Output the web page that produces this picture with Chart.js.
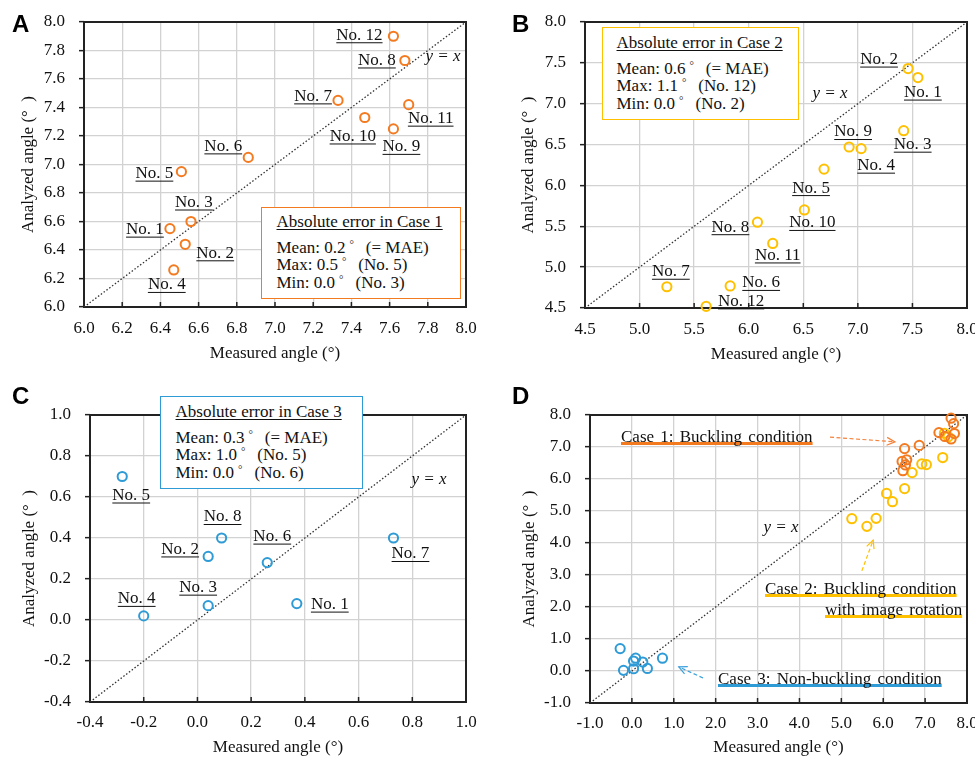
<!DOCTYPE html>
<html><head><meta charset="utf-8">
<script src="https://cdn.jsdelivr.net/npm/chart.js@4.4.0/dist/chart.umd.min.js"></script>
<style>
html,body{margin:0;padding:0;background:#fff;width:975px;height:758px;overflow:hidden;position:relative;}
canvas{position:absolute;}
.t{position:absolute;font-family:"Liberation Serif","Times New Roman",serif;font-size:17px;line-height:17px;white-space:nowrap;color:#111;}
.c{transform:translateX(-50%);}
.i{font-style:italic;}
.u{text-decoration:underline;text-decoration-thickness:1px;text-underline-offset:2px;}
.cu{text-decoration:underline;text-decoration-thickness:2.5px;text-underline-offset:0px;text-decoration-skip-ink:none;word-spacing:2px;}
.letter{position:absolute;font-family:"Liberation Sans",Arial,sans-serif;font-weight:bold;font-size:24px;line-height:24px;color:#000;}
.box{position:absolute;background:#fff;box-sizing:border-box;border-width:1.5px;border-style:solid;z-index:5;}
.deg{font-size:11px;position:relative;top:-5px;margin:0 12px 0 4px;}
</style></head><body>

<canvas id="cA" width="487" height="372" style="left:0;top:0"></canvas>
<canvas id="cB" width="488" height="372" style="left:487px;top:0"></canvas>
<canvas id="cC" width="487" height="378" style="left:0;top:380px"></canvas>
<canvas id="cD" width="488" height="378" style="left:487px;top:380px"></canvas>

<div class="letter" style="left:12px;top:12px">A</div>
<div class="letter" style="left:512px;top:12px">B</div>
<div class="letter" style="left:12px;top:384px">C</div>
<div class="letter" style="left:512px;top:384px">D</div>

<div class="t i c" style="left:443px;top:47px">y = x</div>
<div class="t i c" style="left:830px;top:84px">y = x</div>
<div class="t i c" style="left:429px;top:470px">y = x</div>
<div class="t i c" style="left:781px;top:518px">y = x</div>

<div class="box" style="left:261px;top:207px;width:200px;height:92px;border-color:#F47A20">
  <div class="t u" style="left:14.5px;top:5px">Absolute error in Case 1</div>
  <div class="t" style="left:14.5px;top:30.5px">Mean: 0.2<span class="deg">°</span>(= MAE)</div>
  <div class="t" style="left:14.5px;top:48px">Max: 0.5<span class="deg">°</span>(No. 5)</div>
  <div class="t" style="left:14.5px;top:65.5px">Min: 0.0<span class="deg">°</span>(No. 3)</div>
</div>
<div class="box" style="left:602px;top:27px;width:197px;height:93px;border-color:#FFC000">
  <div class="t u" style="left:13.5px;top:6px">Absolute error in Case 2</div>
  <div class="t" style="left:13.5px;top:31.5px">Mean: 0.6<span class="deg">°</span>(= MAE)</div>
  <div class="t" style="left:13.5px;top:49px">Max: 1.1<span class="deg">°</span>(No. 12)</div>
  <div class="t" style="left:13.5px;top:66.5px">Min: 0.0<span class="deg">°</span>(No. 2)</div>
</div>
<div class="box" style="left:160px;top:396px;width:203px;height:93px;border-color:#2E9BD6">
  <div class="t u" style="left:14.5px;top:6px">Absolute error in Case 3</div>
  <div class="t" style="left:14.5px;top:31.5px">Mean: 0.3<span class="deg">°</span>(= MAE)</div>
  <div class="t" style="left:14.5px;top:49px">Max: 1.0<span class="deg">°</span>(No. 5)</div>
  <div class="t" style="left:14.5px;top:66.5px">Min: 0.0<span class="deg">°</span>(No. 6)</div>
</div>

<div class="t cu" style="left:621px;top:428px;text-decoration-color:#F47A20">Case 1: Buckling condition</div>
<div class="t cu" style="left:765px;top:580px;text-decoration-color:#FFC000">Case 2: Buckling condition</div>
<div class="t cu" style="left:825px;top:601px;text-decoration-color:#FFC000">with image rotation</div>
<div class="t cu" style="left:718px;top:670px;text-decoration-color:#2E9BD6">Case 3: Non-buckling condition</div>

<script>
// ---------------- data ----------------
const pointNames = ['No. 1','No. 2','No. 3','No. 4','No. 5','No. 6','No. 7','No. 8','No. 9','No. 10','No. 11','No. 12'];
// Case 1: buckling condition
const case1Measured = [6.45, 6.53, 6.56, 6.47, 6.51, 6.86, 7.33, 7.68, 7.62, 7.47, 7.70, 7.62];
const case1Analyzed = [6.55, 6.44, 6.60, 6.26, 6.95, 7.05, 7.45, 7.73, 7.25, 7.33, 7.42, 7.90];
// Case 2: buckling condition with image rotation
const case2Measured = [7.55, 7.46, 7.42, 7.03, 6.69, 5.83, 5.25, 6.08, 6.92, 6.51, 6.22, 5.61];
const case2Analyzed = [7.32, 7.43, 6.67, 6.45, 6.20, 4.77, 4.76, 5.55, 6.47, 5.70, 5.29, 4.52];
// Case 3: non-buckling condition
const case3Names = ['No. 1','No. 2','No. 3','No. 4','No. 5','No. 6','No. 7','No. 8'];
const case3Measured = [0.37, 0.04, 0.04, -0.20, -0.28, 0.26, 0.73, 0.09];
const case3Analyzed = [0.08, 0.31, 0.07, 0.02, 0.70, 0.28, 0.40, 0.40];

// tick values of each panel
const ticksA = [6.0, 6.2, 6.4, 6.6, 6.8, 7.0, 7.2, 7.4, 7.6, 7.8, 8.0];
const ticksB = [4.5, 5.0, 5.5, 6.0, 6.5, 7.0, 7.5, 8.0];
const ticksC = [-0.4, -0.2, 0.0, 0.2, 0.4, 0.6, 0.8, 1.0];
const ticksD = [-1.0, 0.0, 1.0, 2.0, 3.0, 4.0, 5.0, 6.0, 7.0, 8.0];

const xTitle = 'Measured angle (°)';
const yTitle = 'Analyzed angle (°  )';

// ---------------- styles / label placement (pixel offsets from each point) ----------------
const offsA = [[-25,1],[30,9],[3,-19],[-7,15],[-27,2],[-25,-11],[-25,-4],[-28,0],[8,18],[-12,19],[22,14],[-34,-1]];
const offsB = [[5,15],[-29,-9],[9,14],[15,17],[-13,19],[31,-3],[4,-15],[-27,5],[4,-15],[8,13],[5,12],[35,-5]];
const offsC = [[33,1],[-28,-7],[-10,-18],[-7,-17],[9,19],[5,-26],[17,16],[1,-21]];
// arrows in panel D: [x1, y1, x2, y2] in data units, arrowhead at the second point
const arrowsD = [[4.73, 7.31, 6.28, 7.16, '#F4823C'], [5.49, 3.13, 5.76, 4.09, '#FFC000'], [1.70, -0.22, 1.12, 0.13, '#3AA0DC']];

const ORANGE = '#F47A20', GOLD = '#FFC000', BLUE = '#2E9BD6';
const SERIF = "'Liberation Serif','Times New Roman',serif";

function zip(xs, ys){ return xs.map((x,i)=>({x:x, y:ys[i]})); }
function fmt(v){ if (Math.abs(v) < 1e-9) v = 0; return v.toFixed(1); }

function scaleCfg(axis, ticks, fit, titlePad, tickPad){
  return {
    type:'linear', position: axis==='x' ? 'bottom' : 'left',
    min: ticks[0], max: ticks[ticks.length-1],
    afterBuildTicks(s){ s.ticks = ticks.map(v=>({value:v})); },
    ticks:{ padding: tickPad, color:'#111', font:{family:SERIF, size:17}, callback:(v)=>fmt(v), autoSkip:false, maxRotation:0, minRotation:0 },
    grid:{ color:'#d2d2d2', lineWidth:1.3, drawTicks: axis==='y', tickLength:5, tickColor:'#222', tickWidth:1.5 },
    border:{ display:false },
    title:{ display:true, text: axis==='x' ? xTitle : yTitle, color:'#111', font:{family:SERIF, size:17},
            padding: axis==='x' ? {top:0, bottom:titlePad} : {top:titlePad, bottom:0} },
    afterFit(s){
      if (axis==='x') s.height = fit; else s.width = fit;
      s.paddingLeft = 0; s.paddingRight = 0; s.paddingTop = 0; s.paddingBottom = 0;
    }
  };
}

const framePlugin = {
  id:'frame',
  beforeDatasetsDraw(chart){
    const ctx = chart.ctx, a = chart.chartArea, xs = chart.scales.x;
    ctx.save();
    ctx.strokeStyle = '#222'; ctx.lineWidth = 1.5;
    xs.ticks.forEach(t=>{
      const px = xs.getPixelForValue(t.value);
      ctx.beginPath(); ctx.moveTo(px, a.bottom); ctx.lineTo(px, a.bottom-5); ctx.stroke();
    });
    ctx.lineWidth = 2;
    ctx.strokeRect(a.left, a.top, a.right-a.left, a.bottom-a.top);
    ctx.restore();
  }
};

function labelPlugin(texts, offsets){
  return {
    id:'ptLabels',
    afterDatasetsDraw(chart){
      const meta = chart.getDatasetMeta(0), ctx = chart.ctx;
      ctx.save();
      ctx.font = "17px " + SERIF;
      ctx.fillStyle = '#111'; ctx.strokeStyle = '#111'; ctx.lineWidth = 1;
      ctx.textAlign = 'center'; ctx.textBaseline = 'middle';
      meta.data.forEach((el,i)=>{
        const cx = el.x + offsets[i][0], cy = el.y + offsets[i][1];
        ctx.fillText(texts[i], cx, cy);
        const w = ctx.measureText(texts[i]).width;
        ctx.beginPath(); ctx.moveTo(cx-w/2, cy+7.5); ctx.lineTo(cx+w/2, cy+7.5); ctx.stroke();
      });
      ctx.restore();
    }
  };
}

const arrowPlugin = {
  id:'arrows',
  afterDatasetsDraw(chart){
    const ctx = chart.ctx, xs = chart.scales.x, ys = chart.scales.y;
    ctx.save();
    arrowsD.forEach(a=>{
      const x1 = xs.getPixelForValue(a[0]), y1 = ys.getPixelForValue(a[1]);
      const x2 = xs.getPixelForValue(a[2]), y2 = ys.getPixelForValue(a[3]);
      ctx.strokeStyle = a[4]; ctx.lineWidth = 1.2;
      ctx.setLineDash([4,2.5]);
      ctx.beginPath(); ctx.moveTo(x1,y1); ctx.lineTo(x2,y2); ctx.stroke();
      ctx.setLineDash([]);
      const ang = Math.atan2(y2-y1, x2-x1), L = 9, sp = 0.45;
      ctx.beginPath();
      ctx.moveTo(x2 - L*Math.cos(ang-sp), y2 - L*Math.sin(ang-sp));
      ctx.lineTo(x2, y2);
      ctx.lineTo(x2 - L*Math.cos(ang+sp), y2 - L*Math.sin(ang+sp));
      ctx.stroke();
    });
    ctx.restore();
  }
};

function ptSet(data, color){
  return { type:'scatter', data:data, borderColor:color, backgroundColor:'rgba(0,0,0,0)',
           pointRadius:4.6, pointBorderWidth:2, pointHoverRadius:4.6, clip:false, showLine:false };
}
function diagSet(ticks){
  const lo = ticks[0], hi = ticks[ticks.length-1];
  return { type:'line', data:[{x:lo,y:lo},{x:hi,y:hi}], borderColor:'#333', borderWidth:1.3,
           borderDash:[1.5,2], pointRadius:0, fill:false, tension:0 };
}

function makeChart(id, datasets, ticks, pad, yFit, xFit, yTitlePad, xTitlePad, xTickPad, extraPlugins){
  new Chart(document.getElementById(id), {
    type:'scatter',
    data:{ datasets:datasets },
    options:{
      responsive:false, animation:false, devicePixelRatio:1,
      layout:{ padding:pad },
      plugins:{ legend:{display:false}, tooltip:{enabled:false} },
      scales:{ x: scaleCfg('x', ticks, xFit, xTitlePad, xTickPad), y: scaleCfg('y', ticks, yFit, yTitlePad, 14) }
    },
    plugins:[framePlugin].concat(extraPlugins)
  });
}

makeChart('cA', [ptSet(zip(case1Measured, case1Analyzed), ORANGE), diagSet(ticksA)], ticksA,
  {left:0, top:22, right:21, bottom:0}, 84, 65, 18, 8, 11, [labelPlugin(pointNames, offsA)]);
makeChart('cB', [ptSet(zip(case2Measured, case2Analyzed), GOLD), diagSet(ticksB)], ticksB,
  {left:0, top:22, right:8, bottom:0}, 98, 64, 31, 7, 11, [labelPlugin(pointNames, offsB)]);
makeChart('cC', [ptSet(zip(case3Measured, case3Analyzed), BLUE), diagSet(ticksC)], ticksC,
  {left:0, top:35, right:21, bottom:0}, 90, 56, 19, 0, 10, [labelPlugin(case3Names, offsC)]);
makeChart('cD', [ptSet(zip(case1Measured, case1Analyzed), ORANGE), ptSet(zip(case2Measured, case2Analyzed), GOLD),
  ptSet(zip(case3Measured, case3Analyzed), BLUE), diagSet(ticksD)], ticksD,
  {left:0, top:35, right:8, bottom:0}, 103, 55, 32, 0, 10, [arrowPlugin]);
</script>
</body></html>
